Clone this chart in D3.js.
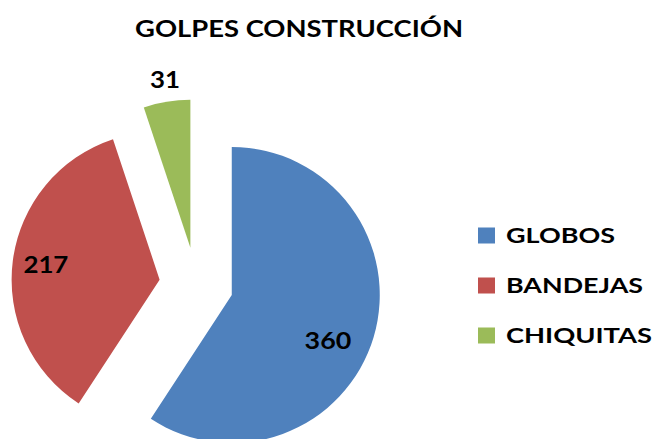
<!DOCTYPE html>
<html>
<head>
<meta charset="utf-8">
<script src="https://cdn.jsdelivr.net/npm/d3@7"></script>
<style>
  html, body { margin: 0; padding: 0; background: #fff; }
  svg { display: block; }
  text { font-family: Lato, "Open Sans", sans-serif; font-weight: 700; fill: #000; }
</style>
</head>
<body>
<div id="chart"></div>
<script>
// ---- data ----
const title = "GOLPES CONSTRUCCIÓN";
const categories = ["GLOBOS", "BANDEJAS", "CHIQUITAS"];
const values = [360, 217, 31];
const colors = ["#4F81BD", "#C0504D", "#9BBB59"];

// ---- layout (styles / geometry, not data) ----
const W = 656, H = 439;
const cx = 196.3, cy = 284.4, R = 148, explode = 37;
const labelRadius = [0.72, 0.775, 1.146];
const labelAngleShift = [8.9, 0, 0.6]; // degrees
const labelLen = [46.7, 45, 30];
const legendLen = [109, 137, 146];

const svg = d3.select("#chart").append("svg")
  .attr("width", W).attr("height", H);

svg.append("text")
  .attr("x", 135).attr("y", 37.3)
  .attr("font-size", 23.3)
  .attr("textLength", 328).attr("lengthAdjust", "spacingAndGlyphs")
  .text(title);

const pie = d3.pie().sort(null).startAngle(0).endAngle(2 * Math.PI);
const arcs = pie(values);
const arc = d3.arc().innerRadius(0).outerRadius(R);
const color = d3.scaleOrdinal().domain(categories).range(colors);

const g = svg.append("g").attr("transform", `translate(${cx},${cy})`);

const slices = g.selectAll("g.slice").data(arcs).join("g")
  .attr("class", "slice")
  .attr("transform", d => {
    const a = (d.startAngle + d.endAngle) / 2;
    return `translate(${explode * Math.sin(a)},${-explode * Math.cos(a)})`;
  });

slices.append("path")
  .attr("d", arc)
  .attr("fill", (d, i) => color(categories[i]));

slices.append("text")
  .attr("text-anchor", "middle")
  .attr("font-size", 22)
  .attr("textLength", (d, i) => labelLen[i])
  .attr("lengthAdjust", "spacingAndGlyphs")
  .attr("x", (d, i) => {
    const a = (d.startAngle + d.endAngle) / 2 + labelAngleShift[i] * Math.PI / 180;
    return R * labelRadius[i] * Math.sin(a);
  })
  .attr("y", (d, i) => {
    const a = (d.startAngle + d.endAngle) / 2 + labelAngleShift[i] * Math.PI / 180;
    return -R * labelRadius[i] * Math.cos(a) + 8;
  })
  .text(d => d.data);

// legend
const ly = d3.scalePoint().domain(categories).range([235.5, 335.5]);
const legend = svg.append("g").selectAll("g").data(categories).join("g")
  .attr("transform", d => `translate(478,${ly(d)})`);
legend.append("rect")
  .attr("x", 0).attr("y", -8).attr("width", 17).attr("height", 16)
  .attr("fill", d => color(d));
legend.append("text")
  .attr("x", 28).attr("y", 7.8)
  .attr("font-size", 21)
  .attr("textLength", (d, i) => legendLen[i])
  .attr("lengthAdjust", "spacingAndGlyphs")
  .text(d => d);
</script>
</body>
</html>
